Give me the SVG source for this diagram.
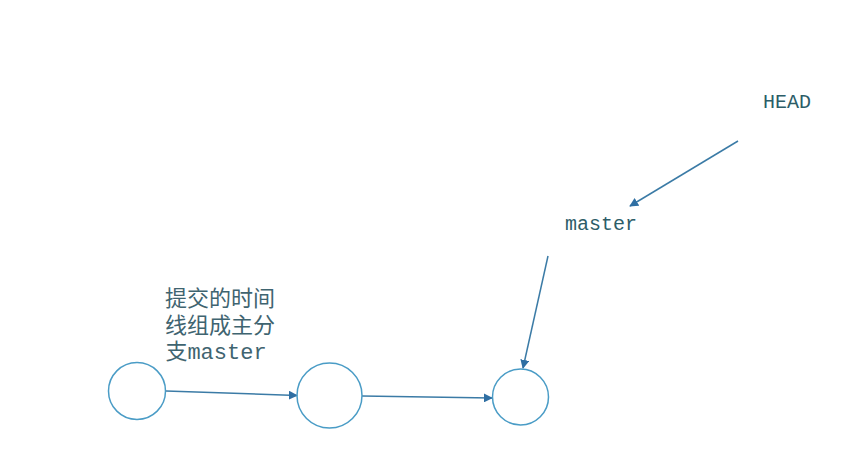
<svg xmlns="http://www.w3.org/2000/svg" width="848" height="453" viewBox="0 0 848 453">
<style>
.node{fill:none;stroke:#4a9cc6;stroke-width:1.5}
.edge{fill:none;stroke:#3b7ba6;stroke-width:1.5}
.mono{font-family:"Liberation Mono","DejaVu Sans Mono",monospace;font-size:20px;fill:#2d5d68}
.cjk{font-family:"Noto Sans CJK SC","Noto Sans CJK JP",sans-serif;font-size:22px;fill:#3f6470}
</style>
<defs>
<marker id="arr" viewBox="0 0 10 10" refX="9" refY="5" markerWidth="9" markerHeight="9" markerUnits="userSpaceOnUse" orient="auto">
<path d="M0,0 L10,5 L0,10 z" fill="#2f6fa3"/>
</marker>
</defs>
<rect width="848" height="453" fill="#ffffff"/>
<g id="connectors">
<line class="edge" x1="166" y1="391" x2="297" y2="395.5" marker-end="url(#arr)"/>
<line class="edge" x1="362" y1="396" x2="492" y2="398" marker-end="url(#arr)"/>
<line class="edge" x1="548" y1="256" x2="523" y2="368" marker-end="url(#arr)"/>
<line class="edge" x1="738" y1="141" x2="630" y2="206" marker-end="url(#arr)"/>
</g>
<g id="head"><text class="mono" x="787" y="108" text-anchor="middle">HEAD</text></g>
<g id="master"><text class="mono" x="601" y="230" text-anchor="middle">master</text></g>
<g id="label">
<text class="cjk" x="220" y="306" text-anchor="middle">提交的时间</text>
<text class="cjk" x="220" y="333" text-anchor="middle">线组成主分</text>
<text class="cjk" x="216" y="359" text-anchor="middle">支<tspan class="mono" style="font-size:22px;fill:#3f6470">master</tspan></text>
</g>
<g id="c1"><circle class="node" cx="137" cy="391" r="28.5"/></g>
<g id="c2"><circle class="node" cx="329.5" cy="395.5" r="32.5"/></g>
<g id="c3"><circle class="node" cx="520.5" cy="397" r="28"/></g>
</svg>
